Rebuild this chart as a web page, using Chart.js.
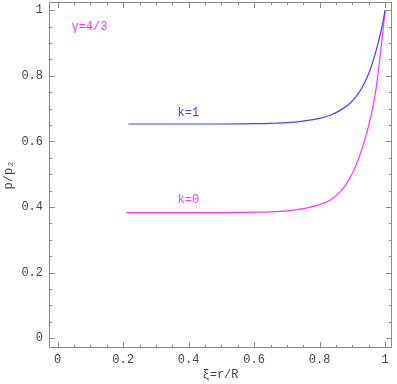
<!DOCTYPE html>
<html>
<head>
<meta charset="utf-8">
<script src="https://cdn.jsdelivr.net/npm/chart.js@4/dist/chart.umd.min.js"></script>
<style>
  html, body { margin: 0; padding: 0; background: #fff; }
  #wrap { width: 397px; height: 384px; }
</style>
</head>
<body>
<div id="wrap"><canvas id="pressureChart"></canvas></div>
<script>
// valores
const k1X = [0.216, 0.3, 0.4, 0.5, 0.6, 0.65, 0.7, 0.75, 0.8, 0.83, 0.86, 0.89, 0.91, 0.93, 0.95, 0.965, 0.98, 0.99, 1.0];
const k1Y = [0.653, 0.653, 0.653, 0.653, 0.654, 0.655, 0.657, 0.662, 0.670, 0.679, 0.693, 0.714, 0.735, 0.765, 0.807, 0.851, 0.905, 0.948, 1.0];
const k0X = [0.21, 0.3, 0.4, 0.5, 0.6, 0.65, 0.7, 0.75, 0.8, 0.83, 0.86, 0.88, 0.9, 0.92, 0.94, 0.955, 0.97, 0.98, 0.99, 1.0];
const k0Y = [0.383, 0.383, 0.383, 0.383, 0.384, 0.385, 0.388, 0.395, 0.407, 0.420, 0.443, 0.468, 0.503, 0.550, 0.612, 0.670, 0.745, 0.820, 0.905, 1.0];

const xTicks = [0, 0.2, 0.4, 0.6, 0.8, 1];
const yTicks = [0, 0.2, 0.4, 0.6, 0.8, 1];

const blue = 'rgb(64,64,255)';
const magenta = 'rgb(255,51,255)';
const mono = '"Liberation Mono", "DejaVu Sans Mono", monospace';

function toPoints(xs, ys) {
    return xs.map((x, i) => ({ x: x, y: ys[i] }));
}

function fmt(v) {
    return (v === 0 || v === 1) ? String(v) : v.toFixed(1);
}

// sin relleno extra para las etiquetas de los extremos
function noPad(s) {
    s.paddingTop = 0; s.paddingBottom = 0;
    s.paddingLeft = 0; s.paddingRight = 0;
}

// marco, marcas hacia dentro y textos
const framePlugin = {
    id: 'frame',
    afterDraw(chart) {
        const ctx = chart.ctx;
        const a = chart.chartArea;
        const sx = chart.scales.x, sy = chart.scales.y;
        ctx.save();
        ctx.strokeStyle = '#8a8a8a';
        ctx.lineWidth = 1;
        ctx.strokeRect(Math.round(a.left) + 0.5, Math.round(a.top) + 0.5,
            Math.round(a.right - a.left) - 1, Math.round(a.bottom - a.top) - 1);
        ctx.beginPath();
        for (let i = 0; i <= 20; i++) {
            const v = i * 0.05;
            const len = (i % 4 === 0) ? 6 : 3;
            const px = Math.round(sx.getPixelForValue(v)) + 0.5;
            ctx.moveTo(px, a.bottom); ctx.lineTo(px, a.bottom - len);
            ctx.moveTo(px, a.top); ctx.lineTo(px, a.top + len);
            const py = Math.round(sy.getPixelForValue(v)) + 0.5;
            ctx.moveTo(a.left, py); ctx.lineTo(a.left + len, py);
            ctx.moveTo(a.right, py); ctx.lineTo(a.right - len, py);
        }
        ctx.stroke();

        ctx.font = '12px ' + mono;
        ctx.textAlign = 'center';
        ctx.textBaseline = 'middle';
        ctx.fillStyle = magenta;
        ctx.fillText('γ=4/3', sx.getPixelForValue(0.097), sy.getPixelForValue(0.948));
        ctx.fillText('k=0', sx.getPixelForValue(0.399), sy.getPixelForValue(0.422));
        ctx.fillStyle = blue;
        ctx.fillText('k=1', sx.getPixelForValue(0.399), sy.getPixelForValue(0.687));
        ctx.restore();
    }
};

const ctx = document.getElementById('pressureChart').getContext('2d');
const pressureChart = new Chart(ctx, {
    type: 'line',
    data: {
        datasets: [{
            label: 'k=1',
            data: toPoints(k1X, k1Y),
            borderColor: blue,
            borderWidth: 1.2,
            pointRadius: 0,
            cubicInterpolationMode: 'monotone',
            fill: false
        }, {
            label: 'k=0',
            data: toPoints(k0X, k0Y),
            borderColor: magenta,
            borderWidth: 1.2,
            pointRadius: 0,
            cubicInterpolationMode: 'monotone',
            fill: false
        }]
    },
    options: {
        responsive: true,
        maintainAspectRatio: false,
        animation: false,
        layout: { padding: { left: 0, right: 5, top: 2, bottom: 0 } },
        plugins: {
            legend: { display: false },
            tooltip: { enabled: false }
        },
        scales: {
            x: {
                type: 'linear',
                min: -0.0265,
                max: 1.021,
                grid: { display: false, drawTicks: false },
                border: { display: false },
                afterBuildTicks: s => { s.ticks = xTicks.map(v => ({ value: v })); },
                afterFit: s => { s.height = 36; noPad(s); },
                ticks: {
                    padding: 5,
                    color: '#444',
                    font: { family: mono, size: 12 },
                    callback: v => fmt(v)
                },
                title: {
                    display: true,
                    text: 'ξ=r/R',
                    color: '#444',
                    font: { family: mono, size: 12 },
                    padding: { top: 0, bottom: 2 }
                }
            },
            y: {
                type: 'linear',
                min: -0.030,
                max: 1.025,
                grid: { display: false, drawTicks: false },
                border: { display: false },
                afterBuildTicks: s => { s.ticks = yTicks.map(v => ({ value: v })); },
                afterFit: s => { s.width = 49; noPad(s); },
                ticks: {
                    padding: 6,
                    color: '#444',
                    font: { family: mono, size: 12 },
                    callback: v => fmt(v)
                },
                title: {
                    display: true,
                    text: 'p/p₂',
                    color: '#444',
                    font: { family: mono, size: 12 },
                    padding: { top: 2, bottom: 0 }
                }
            }
        }
    },
    plugins: [framePlugin]
});
</script>
</body>
</html>
